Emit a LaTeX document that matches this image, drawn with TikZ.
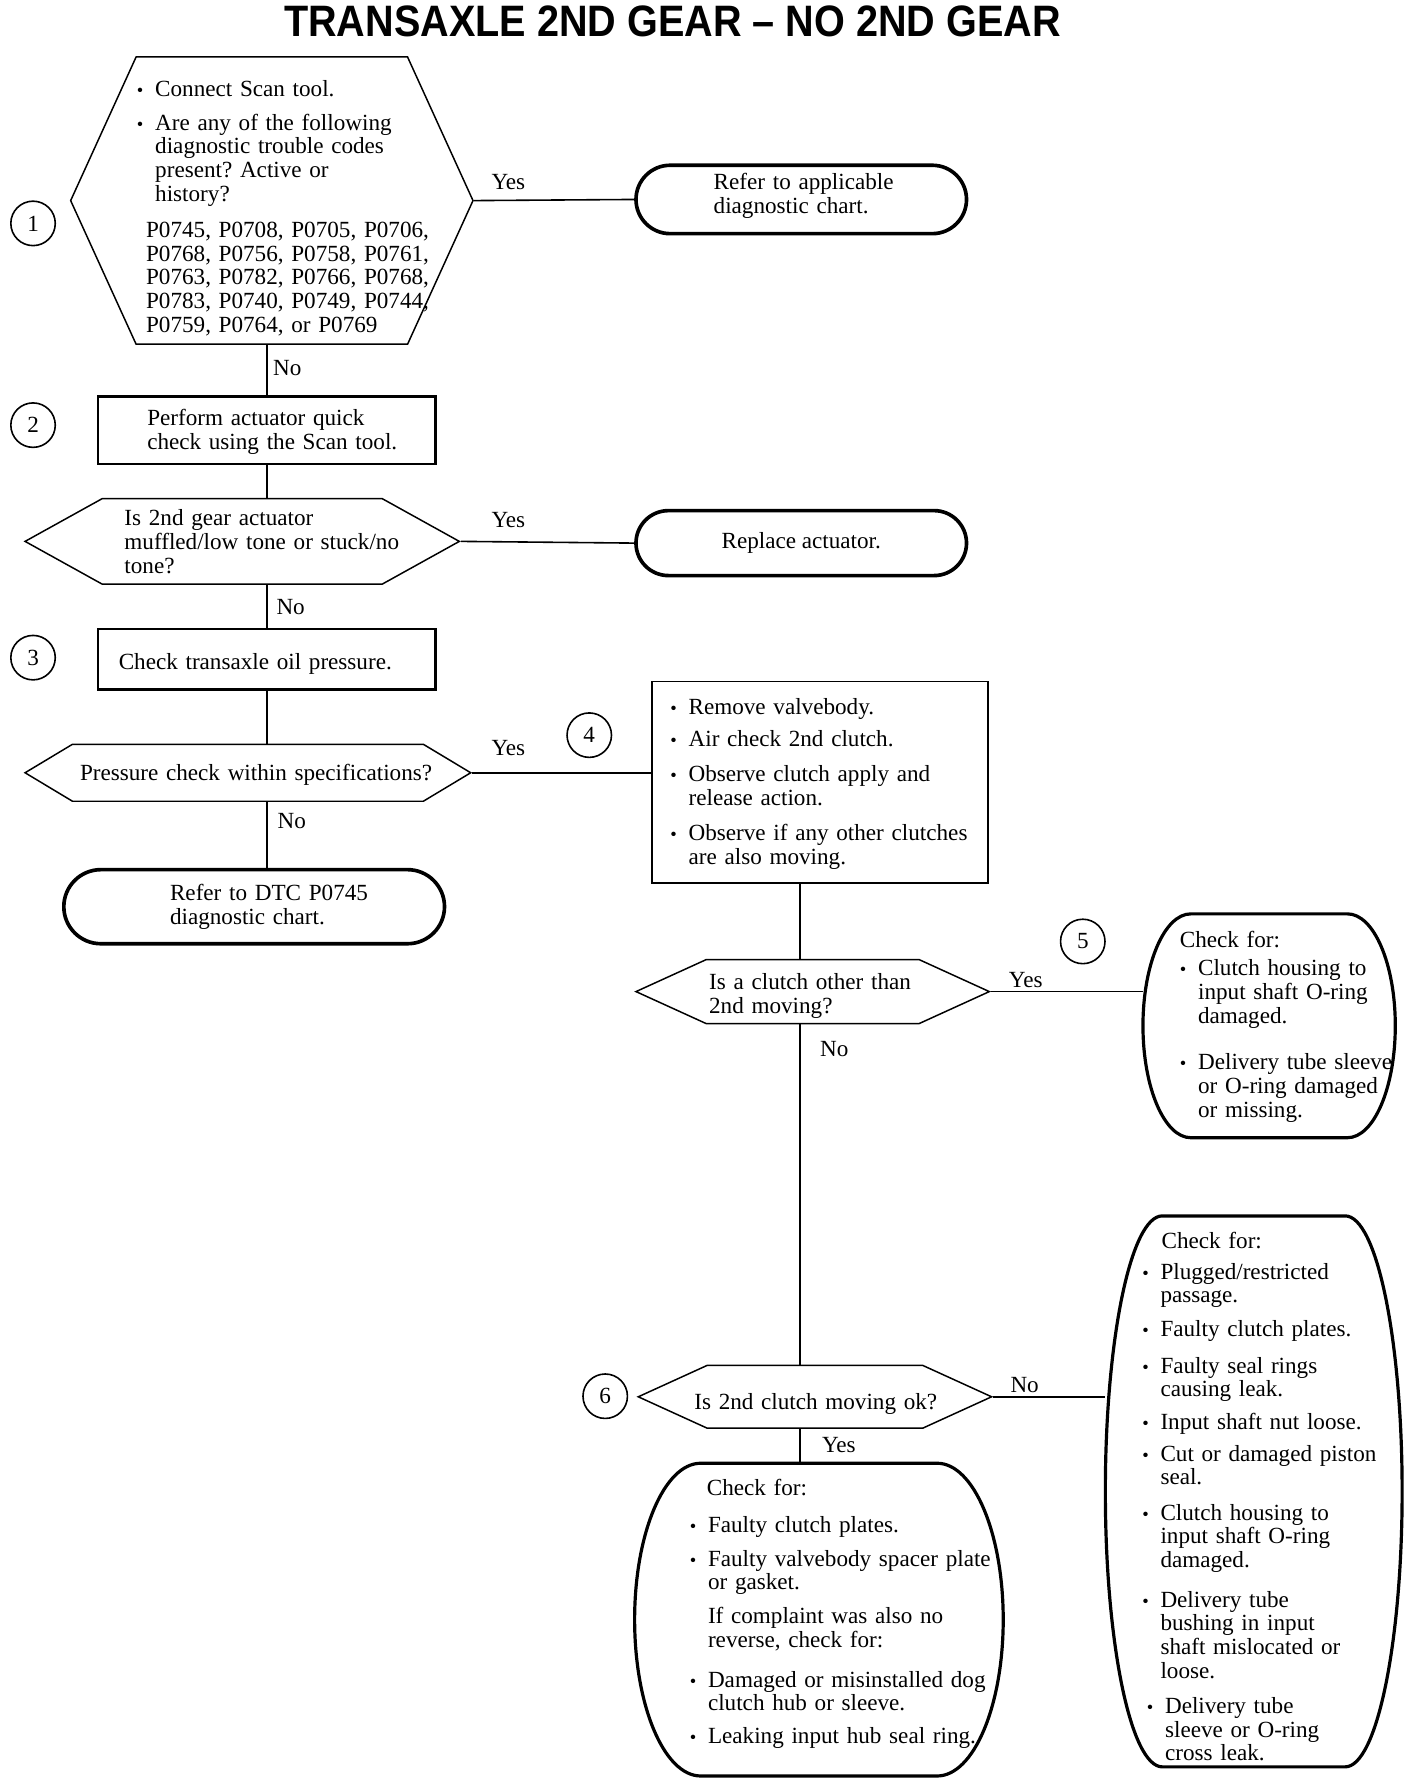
\documentclass[tikz,border=0pt]{standalone}
\usepackage{fontspec}
\usepackage{graphicx}
\setmainfont{Liberation Serif}
\newfontfamily\headfont{Liberation Sans}
\usetikzlibrary{shapes.symbols,shapes.misc,calc}

\newcommand{\bodyfont}{\fontsize{20.3bp}{20.8bp}\selectfont\frenchspacing}
\newlength{\bulw}
\setlength{\bulw}{16bp}
\newcommand{\ind}[2]{\noindent\hangindent=#1\hangafter=0 #2\par}
\newcommand{\bul}[1]{\noindent\hangindent=\bulw\hangafter=1\makebox[\bulw][l]{\scalebox{0.8}{\textbullet}}#1\par}
\newcommand{\vgap}[1]{\par\vspace{#1}}
% barrel outline round a node: flat top and bottom, elliptic sides
\newcommand{\barrel}[2]{%
  \draw[barrelline]
    ([xshift=#2]#1.north west) -- ([xshift=-#2]#1.north east)
    .. controls ($([xshift=-#2]#1.north east)!0.552!(#1.north east)$) and ($(#1.east)!0.552!(#1.north east)$) .. (#1.east)
    .. controls ($(#1.east)!0.552!(#1.south east)$) and ($([xshift=-#2]#1.south east)!0.552!(#1.south east)$) .. ([xshift=-#2]#1.south east)
    -- ([xshift=#2]#1.south west)
    .. controls ($([xshift=#2]#1.south west)!0.552!(#1.south west)$) and ($(#1.west)!0.552!(#1.south west)$) .. (#1.west)
    .. controls ($(#1.west)!0.552!(#1.north west)$) and ($([xshift=#2]#1.north west)!0.552!(#1.north west)$) .. cycle;}

\tikzset{
  conn/.style={line width=1.4bp},
  hexa/.style={signal, signal to=west and east, draw, line width=1.3bp, inner sep=0pt},
  term/.style={rounded rectangle, draw, line width=3.2bp, inner sep=0pt},
  stepbox/.style={rectangle, draw, line width=2.2bp, inner sep=0pt},
  barrelbox/.style={rectangle, inner sep=0pt},
  barrelline/.style={line width=2.8bp},
  num/.style={circle, draw, line width=1.4bp, minimum size=39bp, inner sep=0pt},
  txt/.style={anchor=north west, inner sep=0pt, align=left, text width=#1},
  heading/.style={inner sep=0pt, font=\headfont\bfseries\fontsize{38.6bp}{40bp}\selectfont}
}

\begin{document}
\begin{tikzpicture}[x=1bp,y=-1bp,font=\bodyfont]
\useasboundingbox (0,0) rectangle (1249,1567);

% title
\node[heading] (title) at (590,19) {\scalebox{0.9}[1]{TRANSAXLE 2ND GEAR – NO 2ND GEAR}};

% step numbers
\node[num] (c1) at (29,196) {1};
\node[num] (c2) at (29,373) {2};
\node[num] (c3) at (29,577) {3};
\node[num] (c4) at (517,645) {4};
\node[num] (c5) at (950,826) {5};
\node[num] (c6) at (531,1225) {6};

% shapes
\node[hexa, minimum width=353bp, minimum height=252bp, signal pointer angle=131] (q1) at (238.5,176) {};
\node[term, minimum width=290bp, minimum height=60bp] (r1) at (703,175) {};
\node[stepbox, minimum width=296bp, minimum height=59bp] (b2) at (234,377.5) {};
\node[hexa, minimum width=381bp, minimum height=75bp, signal pointer angle=58] (q2) at (212.5,475) {};
\node[term, minimum width=290bp, minimum height=57bp] (r2) at (703,476.5) {Replace actuator.};
\node[stepbox, minimum width=296bp, minimum height=53bp] (b3) at (234,578.5) {};
\node[hexa, minimum width=391bp, minimum height=50bp, signal pointer angle=62] (q3) at (217.5,678) {};
\node[stepbox, line width=1.6bp, minimum width=295bp, minimum height=177bp] (b4) at (719.5,686.5) {};
\node[term, minimum width=334bp, minimum height=65bp] (r3) at (223,795.5) {};
\node[hexa, minimum width=310bp, minimum height=56bp, signal pointer angle=49] (q4) at (713,870) {};
\node[barrelbox, minimum width=221bp, minimum height=196bp] (k5) at (1113.5,900) {};
\node[hexa, minimum width=310bp, minimum height=55bp, signal pointer angle=49] (q5) at (715,1225.5) {};
\node[barrelbox, minimum width=323bp, minimum height=274bp] (k6) at (718.5,1421) {};
\node[barrelbox, minimum width=260bp, minimum height=483bp] (k7) at (1100,1308.5) {};
\barrel{k5}{42bp}
\barrel{k6}{58bp}
\barrel{k7}{50bp}

% texts
\node[txt=300bp] (t1) at (120,70) {\bul{Connect Scan tool.}\vgap{9bp}%
  \bul{Are any of the following\newline diagnostic trouble codes\newline present? Active or\newline history?}\vgap{11bp}%
  \ind{8bp}{P0745, P0708, P0705, P0706,\newline P0768, P0756, P0758, P0761,\newline P0763, P0782, P0766, P0768,\newline P0783, P0740, P0749, P0744,\newline P0759, P0764, or P0769}};
\node[txt=200bp] (t2) at (626,152) {Refer to applicable\\ diagnostic chart.};
\node[txt=260bp] (t3) at (129,359) {Perform actuator quick\\ check using the Scan tool.};
\node[txt=280bp] (t4) at (109,447) {Is 2nd gear actuator\\ muffled/low tone or stuck/no\\ tone?};
\node[txt=280bp] (t5) at (104,573) {Check transaxle oil pressure.};
\node[txt=340bp] (t6) at (70,670) {Pressure check within specifications?};
\node[txt=300bp] (t7) at (588,613) {\bul{Remove valvebody.}\vgap{7bp}%
  \bul{Air check 2nd clutch.}\vgap{10bp}%
  \bul{Observe clutch apply and\newline release action.}\vgap{10bp}%
  \bul{Observe if any other clutches\newline are also moving.}};
\node[txt=220bp] (t8) at (149,776) {Refer to DTC P0745\\ diagnostic chart.};
\node[txt=240bp] (t9) at (622,854) {Is a clutch other than\\ 2nd moving?};
\node[txt=220bp] (t10) at (1035,817) {Check for:\vgap{4bp}%
  \bul{Clutch housing to\newline input shaft O-ring\newline damaged.}\vgap{20bp}%
  \bul{Delivery tube sleeve\newline or O-ring damaged\newline or missing.}};
\node[txt=280bp] (t11) at (609,1222) {Is 2nd clutch moving ok?};
\node[txt=310bp] (t12) at (605,1298) {\hspace*{15bp}Check for:\vgap{11bp}%
  \bul{Faulty clutch plates.}\vgap{9bp}%
  \bul{Faulty valvebody spacer plate\newline or gasket.}\vgap{9bp}%
  \ind{16bp}{If complaint was also no\newline reverse, check for:}\vgap{14bp}%
  \bul{Damaged or misinstalled dog\newline clutch hub or sleeve.}\vgap{8bp}%
  \bul{Leaking input hub seal ring.}};
\node[txt=250bp] (t13) at (1002,1081) {\hspace*{17bp}Check for:\vgap{6bp}%
  \bul{Plugged/restricted\newline passage.}\vgap{9bp}%
  \bul{Faulty clutch plates.}\vgap{11bp}%
  \bul{Faulty seal rings\newline causing leak.}\vgap{8bp}%
  \bul{Input shaft nut loose.}\vgap{7bp}%
  \bul{Cut or damaged piston\newline seal.}\vgap{10bp}%
  \bul{Clutch housing to\newline input shaft O-ring\newline damaged.}\vgap{14bp}%
  \bul{Delivery tube\newline bushing in input\newline shaft mislocated or\newline loose.}\vgap{10bp}%
  {\leftskip=4bp \bul{Delivery tube\newline sleeve or O-ring\newline cross leak.}}};

% answers
\node (a1) at (446,160) {Yes};
\node (a2) at (252,323) {No};
\node (a3) at (446,456) {Yes};
\node (a4) at (255,533) {No};
\node (a5) at (446,656) {Yes};
\node (a6) at (256,720) {No};
\node (a7) at (900,860) {Yes};
\node (a8) at (732,920) {No};
\node (a9) at (899,1215) {No};
\node (a10) at (736,1268) {Yes};

% connectors
\coordinate (col) at (702,0);
\draw[conn] (q1.east) -- (r1.west);
\draw[conn] (b2.north |- q1.south) -- (b2.north);
\draw[conn] (b2.south) -- (b2.south |- q2.north);
\draw[conn] (q2.east) -- (r2.west);
\draw[conn] (b3.north |- q2.south) -- (b3.north);
\draw[conn] (b3.south) -- (b3.south |- q3.north);
\draw[conn] (q3.east) -- (q3.east -| b4.west);
\draw[conn] (b3.south |- q3.south) -- (b3.south |- r3.north);
\draw[conn] (b4.south -| col) -- (q4.north -| col);
\draw[conn] (q4.east) -- (q4.east -| k5.west);
\draw[conn] (q4.south -| col) -- (q5.north -| col);
\draw[conn] (q5.east) -- (q5.east -| k7.west);
\draw[conn] (q5.south -| col) -- (k6.north -| col);
\end{tikzpicture}
\end{document}
